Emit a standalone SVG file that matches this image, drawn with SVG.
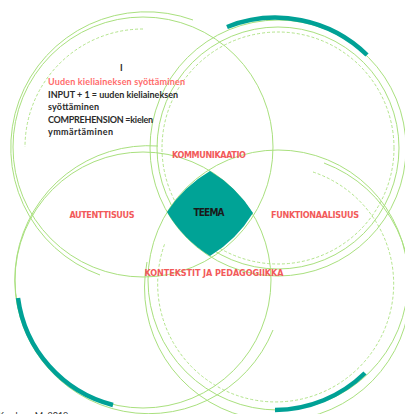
<svg xmlns="http://www.w3.org/2000/svg" width="405" height="414" viewBox="0 0 405 414">
<style>
.g{fill:none;stroke:#a9e07e;stroke-width:1}
.d{fill:none;stroke:#a9e07e;stroke-width:0.9;stroke-dasharray:3 2}
.t{fill:none;stroke:#00a196;stroke-width:4.5}
.lbl{font-family:"DejaVu Sans Condensed","DejaVu Sans",sans-serif;font-weight:bold;font-size:9px;fill:#f25a5a;text-anchor:middle}
.body{font-family:"Lato","Noto Sans",sans-serif;font-weight:bold;font-size:9px;fill:#2b2b2b}
</style>
<rect width="405" height="414" fill="#fff"/>
<g id="connectors">
<circle class="g" cx="143" cy="147" r="130"/>
<path class="g" d="M193,20 A135,135 0 1 0 100,275"/>
<path class="d" d="M143,29 A118,118 0 0 0 25,147"/>
<circle class="g" cx="278" cy="148" r="128"/>
<circle class="g" cx="278" cy="148" r="121"/>
<circle class="d" cx="278" cy="148" r="116"/>
<path class="t" d="M227,27 A131,131 0 0 1 367,55"/>
<circle class="g" cx="143" cy="280" r="128"/>
<path class="g" d="M158,146 A134,134 0 1 0 273,330"/>
<path class="t" d="M18,298 A128,128 0 0 0 113,405"/>
<circle class="g" cx="278" cy="280" r="130"/>
<path class="g" d="M324,163 A133,133 0 1 1 147,262"/>
<path class="d" d="M313,172 A118,118 0 1 1 165,243"/>
<path class="t" d="M275,410 A130,130 0 0 0 365,373"/>
</g>
<g id="teema">
<path d="M210,171 A129,129 0 0 1 253,213 A129,129 0 0 1 210,256 A129,129 0 0 1 167,212 A129,129 0 0 1 210,171 Z" fill="#00a396"/>
<text x="209" y="216" class="lbl" style="fill:#1a1a1a;font-size:10px" textLength="31">TEEMA</text>
</g>
<g id="kommunikaatio"><text x="209" y="158" class="lbl" textLength="74">KOMMUNIKAATIO</text></g>
<g id="autenttisuus"><text x="102" y="218" class="lbl" textLength="65">AUTENTTISUUS</text></g>
<g id="funktionaalisuus"><text x="315" y="218" class="lbl" textLength="88">FUNKTIONAALISUUS</text></g>
<g id="kontekstit"><text x="214" y="276" class="lbl" textLength="139">KONTEKSTIT JA PEDAGOGIIKKA</text></g>
<g id="note">
<text x="120" y="71" class="body">I</text>
<text x="48" y="85" class="body" style="fill:#ff6b6b" textLength="137">Uuden kieliaineksen syöttäminen</text>
<text x="48" y="97.5" class="body" textLength="130">INPUT + 1 = uuden kieliaineksen</text>
<text x="48" y="110" class="body" textLength="51">syöttäminen</text>
<text x="48" y="122.5" class="body" textLength="105">COMPREHENSION =kielen</text>
<text x="48" y="135" class="body" textLength="65">ymmärtäminen</text>
</g>
<text x="-2" y="419" class="body" style="font-weight:normal">Krashen, M. 2019</text>
</svg>
